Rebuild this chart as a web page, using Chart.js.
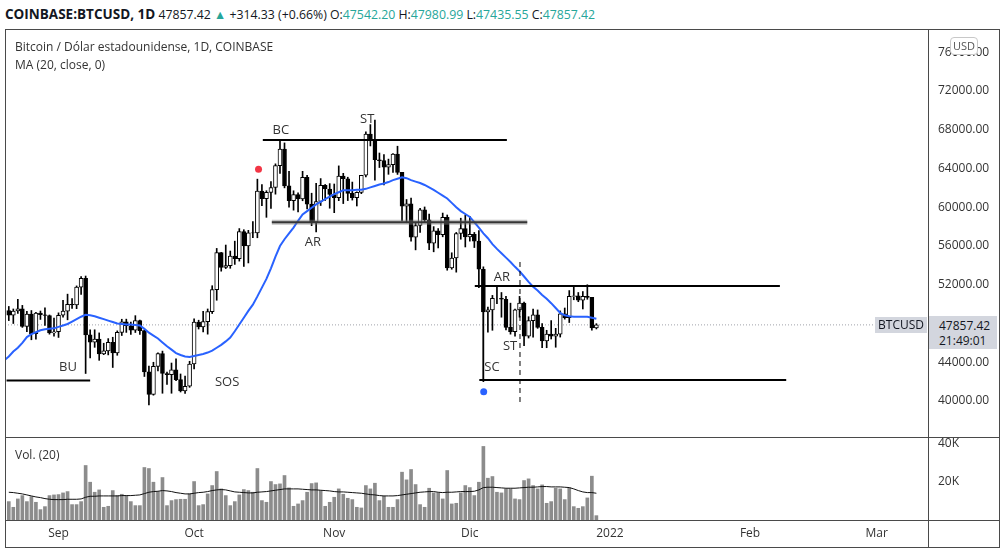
<!DOCTYPE html>
<html>
<head>
<meta charset="utf-8">
<title>BTCUSD 1D</title>
<script src="https://cdn.jsdelivr.net/npm/chart.js@4.4.1/dist/chart.umd.min.js"></script>
<style>
  html, body { margin: 0; padding: 0; background: #fff; }
  body { width: 1006px; height: 555px; position: relative; overflow: hidden;
         font-family: "Open Sans", "Noto Sans", sans-serif; color: #131722; }
  canvas { position: absolute; }
  #header { position: absolute; left: 5px; top: 5px; font-size: 12.3px; line-height: 18px; white-space: nowrap; }
  #header b { font-weight: 700; font-size: 13.5px; }
  .up { color: #26a69a; }
  .legend { position: absolute; left: 15px; font-size: 12px; line-height: 16px; color: #333; white-space: nowrap; }
  .line { position: absolute; background: #4a4a4a; }
  #usd { position: absolute; left: 950px; top: 37px; width: 26px; height: 16px; border: 1px solid #c8c8c8;
         border-radius: 4px; background: #fff; font-size: 11px; line-height: 16px; text-align: center; color: #555; }
  .tag { position: absolute; background: #d3d6de; font-size: 12px; color: #131722; }
</style>
</head>
<body>

<div id="header"><b>COINBASE:BTCUSD, 1D</b> 47857.42 <span class="up">&#9650;</span> +314.33 (+0.66%) O:<span class="up">47542.20</span> H:<span class="up">47980.99</span> L:<span class="up">47435.55</span> C:<span class="up">47857.42</span></div>

<canvas id="priceChart" width="995" height="407" style="left:5px;top:30px"></canvas>
<canvas id="volChart" width="995" height="110" style="left:5px;top:438px"></canvas>

<div class="legend" style="top:39px">Bitcoin / Dólar estadounidense, 1D, COINBASE</div>
<div class="legend" style="top:57px">MA (20, close, 0)</div>
<div class="legend" style="top:447px">Vol. (20)</div>

<!-- pane frame -->
<div class="line" style="left:5px;top:29px;width:995px;height:1px"></div>
<div class="line" style="left:5px;top:547px;width:995px;height:1px"></div>
<div class="line" style="left:5px;top:29px;width:1px;height:519px"></div>
<div class="line" style="left:999px;top:29px;width:1px;height:519px"></div>
<div class="line" style="left:928px;top:29px;width:1px;height:519px"></div>
<div class="line" style="left:5px;top:437px;width:995px;height:1px"></div>
<div class="line" style="left:5px;top:520px;width:995px;height:1px"></div>

<div id="usd">USD</div>
<div class="tag" style="left:875px;top:317px;width:52px;height:16px;line-height:16px;text-align:center">BTCUSD</div>
<div class="tag" style="left:929px;top:316px;width:68px;height:33px;line-height:15px;box-sizing:border-box;padding:2px 0 0 10px">47857.42<br>21:49:01</div>

<script>
// day 0 = 1 Sep 2021; candles run from 21 Aug to 29 Dec 2021
const FIRST_DAY = -11;

const opens = [
  49340, 48870, 49290, 49510, 47700, 48960, 46940, 49080, 48900, 48830, 47030,
  47150, 48850, 49270, 49980, 49920, 51750, 52650, 46830, 46070, 46400, 44850, 45170, 46050, 44960, 47090,
  48180, 47770, 47300, 48300, 47260, 43010, 40690, 43570, 44890, 42840, 42720, 43210, 42200, 41040, 41520,
  43820, 48140, 47640, 48200, 49230, 51490, 55330, 53800, 53970, 54960, 54690, 57480, 56000, 57370, 57350,
  61670, 60880, 61530, 62040, 64300, 66000, 62210, 60690, 61300, 60860, 63080, 60330, 58460, 60590, 62250, 61880,
  61320, 61000, 63230, 62940, 61430, 61000, 61530, 63300, 67550, 66940, 64900, 64820, 64150, 64400, 65500,
  63600, 60100, 60360, 56900, 58120, 59730, 58700, 56300, 57570, 57170, 58960, 53730, 54760, 57290, 57800,
  56950, 57200, 56500, 53600, 49200, 49400, 50600, 50600, 50500, 47600, 47150, 49400, 50100, 46700, 48300,
  48900, 47600, 46200, 46900, 46700, 46900, 49000, 48600, 50800, 50850, 50400, 50800, 50700, 47542.20
];
const highs = [
  49760, 49500, 50500, 49870, 49250, 49340, 49150, 49290, 49630, 48880, 48550,
  49100, 50390, 51030, 50570, 51880, 52850, 52900, 47340, 47350, 47030, 45960, 46440, 46580, 47240, 48440,
  48450, 48140, 48810, 48360, 47330, 43610, 44000, 44980, 45150, 42980, 43920, 44350, 42790, 42580, 44100,
  48490, 48340, 49250, 49500, 51900, 55750, 55340, 56100, 55480, 56500, 57800, 57680, 57620, 58530, 62900,
  62350, 61710, 62650, 64480, 67000, 66640, 63710, 61700, 61490, 63710, 63290, 61450, 62480, 62960, 62350, 62440,
  62400, 64270, 63500, 63100, 62600, 61590, 63300, 67790, 68530, 69000, 65600, 65450, 64970, 65530, 66300,
  63600, 60800, 60940, 58370, 59900, 60030, 59300, 58000, 57800, 59400, 59200, 55300, 57400, 58870, 59200,
  59050, 57400, 57600, 53850, 49700, 50900, 51950, 51200, 50800, 50100, 49500, 50800, 50200, 48700, 49500,
  49400, 48000, 47300, 48300, 47500, 49300, 49600, 51400, 51800, 51200, 51300, 52000, 50700, 47980.99
];
const lows = [
  48300, 48000, 49030, 47600, 47150, 46320, 46370, 48420, 47800, 46900, 46700,
  46560, 48650, 48380, 49560, 49530, 50990, 42840, 44440, 45540, 44200, 44780, 44760, 43460, 44720, 46760,
  47080, 46870, 47070, 46870, 42530, 39600, 40600, 43100, 40800, 41700, 40800, 42100, 40930, 40770, 41410,
  43300, 47430, 47120, 46900, 49030, 50400, 53400, 53670, 53700, 54100, 54440, 53890, 54250, 56850, 56850,
  60170, 58960, 59880, 61350, 63500, 62000, 60000, 59700, 59530, 60670, 59820, 58100, 57450, 60180, 60700, 59900,
  59440, 60680, 60380, 60690, 60740, 60130, 61400, 63120, 66330, 62800, 64100, 62300, 63400, 63600, 63390,
  58600, 58400, 56500, 55600, 57400, 58500, 55630, 55400, 55800, 56950, 53500, 53600, 53300, 56700, 55900,
  56500, 55840, 51700, 42000, 47100, 47300, 50050, 48650, 47350, 46900, 46700, 48650, 45700, 46500, 46600,
  47500, 45500, 45500, 46400, 45550, 46600, 48450, 48100, 50450, 50250, 49500, 50500, 47300, 47435.55
];
const closes = [
  48870, 49290, 49510, 47700, 48960, 46940, 49080, 48900, 48830, 47030, 47150,
  48850, 49270, 49980, 49920, 51750, 52650, 46830, 46070, 46400, 44850, 45170, 46050, 44960, 47090, 48180,
  47770, 47300, 48300, 47260, 43010, 40690, 43570, 44890, 42840, 42720, 43210, 42200, 41040, 41520, 43820,
  48140, 47640, 48200, 49230, 51490, 55330, 53800, 53970, 54960, 54690, 57480, 56000, 57370, 57350, 61670,
  60880, 61530, 62040, 64300, 66000, 62210, 60690, 61300, 60860, 63080, 60330, 58460, 60590, 62250, 61880, 61320,
  61000, 63230, 62940, 61430, 61000, 61530, 63300, 67550, 66940, 64900, 64820, 64150, 64400, 65500, 63600,
  60100, 60360, 56900, 58120, 59730, 58700, 56300, 57570, 57170, 58960, 53730, 54760, 57290, 57800, 56950,
  57200, 56500, 53600, 49200, 49400, 50600, 50600, 50500, 47600, 47150, 49400, 50100, 46700, 48300, 48900,
  47600, 46200, 46900, 46700, 46900, 49000, 48600, 50800, 50850, 50400, 50800, 50700, 47540, 47857.42
];
// MA (20, close), starting one day before the first visible candle
const ma20 = [
  44200,
  44600, 45100, 45500, 46000, 46600, 46900, 47100, 47300, 47400, 47450, 47500,
  47650, 47800, 47950, 48200, 48450, 48700, 48900, 48850, 48750, 48600, 48450, 48300, 48150, 48000, 47950,
  47900, 47900, 47850, 47800, 47450, 47050, 46750, 46450, 46050, 45650, 45300, 44950, 44750, 44600, 44550,
  44650, 44750, 44850, 45000, 45200, 45500, 45800, 46150, 46550, 47200, 47900, 48600, 49300, 49950, 50800,
  51700, 52600, 53700, 54900, 56000, 56700, 57300, 57900, 58600, 59250, 59600, 59950, 60300, 60550, 60850, 61100,
  61350, 61550, 61750, 61750, 61750, 61800, 61800, 61900, 62050, 62200, 62350, 62450, 62600, 62800, 62950,
  63100, 63000, 62800, 62650, 62500, 62300, 62050, 61800, 61500, 61200, 60900, 60450, 60000, 59600, 59300,
  59000, 58450, 57900, 57300, 56800, 56200, 55700, 55250, 54800, 54350, 53850, 53400, 52850, 52300, 51800,
  51400, 50950, 50550, 50100, 49600, 49100, 48850, 48750, 48700, 48700, 48700, 48700, 48600, 48500
];
const volumes = [
  9680, 6690, 11090, 12850, 9680, 12320, 9330, 5460, 7040, 12850, 13200,
  13380, 14260, 14960, 8100, 8100, 9680, 28690, 19890, 14610, 15840, 6690, 7220, 15490, 12850, 13550,
  12850, 9680, 7570, 7570, 27630, 27100, 19890, 14960, 22350, 7570, 10210, 10740, 10910, 10910, 13730,
  20240, 7570, 8100, 13730, 18130, 25520, 16370, 12850, 7570, 9680, 13200, 16020, 15490, 14610, 27100,
  10210, 9330, 20240, 18660, 19010, 23410, 16900, 7220, 8450, 10210, 14610, 19180, 19540, 15490, 7220, 9330,
  11970, 16370, 13550, 11440, 10740, 6690, 6340, 18130, 16370, 19360, 10210, 12500, 6690, 6690, 10740,
  25170, 21120, 26580, 18660, 8100, 6690, 16720, 14260, 14260, 11090, 26050, 8450, 8800, 14260, 18130,
  17070, 12850, 19890, 38720, 22000, 22880, 14610, 14260, 16370, 16370, 11090, 10740, 20770, 21650, 18130,
  16370, 18480, 8800, 9680, 16720, 16370, 10740, 16900, 7040, 6160, 7040, 11620, 23060, 2290
];
const volMa20 = [
  14600, 14430, 14080, 13730, 13200, 12670, 12140, 11790, 11260, 10910, 10740,
  10740, 10740, 10910, 10910, 10910, 11090, 11970, 12500, 12500, 12670, 12670, 12670, 12670, 12670, 12850,
  12850, 12850, 13020, 13200, 13900, 14610, 14960, 15140, 15490, 15310, 14960, 14430, 14080, 13730, 13730,
  14080, 14430, 14610, 14960, 15490, 15840, 16020, 15840, 15310, 14780, 14610, 14430, 14260, 14260, 14610,
  14780, 14960, 15310, 15660, 16020, 16370, 16370, 16370, 16370, 16190, 16020, 15840, 15840, 15660, 15490, 15310,
  14960, 14780, 14780, 14610, 14430, 14260, 14080, 13730, 13380, 13200, 12850, 12670, 12670, 12670, 12850,
  13200, 13550, 13900, 14260, 14610, 14780, 14960, 14960, 14610, 14430, 14610, 14610, 14780, 14960, 14960,
  14960, 15140, 15840, 17070, 17250, 17250, 17070, 16900, 16720, 16720, 16720, 16900, 17070, 17250, 17250,
  17420, 17600, 17600, 17420, 17420, 17420, 17250, 17070, 16370, 15490, 14780, 14430, 14430, 14080
];

const monthTicks = [0, 30, 61, 91, 122, 153, 181];
const monthLabels = ['Sep', 'Oct', 'Nov', 'Dic', '2022', 'Feb', 'Mar'];
const priceTicks = [40000, 44000, 48000, 52000, 56000, 60000, 64000, 68000, 72000, 76000];
const volTicks = [20000, 40000];
const lastPrice = 47857.42;

// hand drawn Wyckoff marks: [fromDay, toDay, price]
const levels = [
  [-11.5, 7, 42120],     // BU
  [45.2, 99.2, 66940],   // BC
  [92.1, 159.6, 51870],  // AR (range top)
  [93.1, 161, 42170]     // SC (range bottom)
];
const arLevel = [47.2, 103.7, 58450];
const scStem = [94, 51870, 42170];
const stDash = [102.1, 54350, 39800];
const redDot = [44.25, 63920];
const blueDot = [94.07, 40960];
const marks = [
  ['BU', 2.1, 43510], ['SOS', 37.3, 41960], ['BC', 49.2, 67970], ['ST', 68.3, 69110],
  ['AR', 56.3, 56410], ['AR', 98.1, 52800], ['ST', 99.9, 45680], ['SC', 95.9, 43510]
];

// visible window, in days
const X_MIN = -11.84;
const X_MAX = 192.37;

const days = closes.map((_, i) => FIRST_DAY + i);

function seg(points, color, width, dash, order) {
  return {
    type: 'line', data: points, borderColor: color, borderWidth: width,
    borderDash: dash || [], pointRadius: 0, fill: false, tension: 0, order: order === undefined ? 0 : order
  };
}
function dot(p, color) {
  return {
    type: 'line', data: [{ x: p[0], y: p[1] }], showLine: false,
    pointRadius: 3.5, pointBackgroundColor: color, pointBorderWidth: 0, order: 0
  };
}

const markLabels = {
  id: 'markLabels',
  afterDatasetsDraw(chart) {
    const { ctx, scales: { x, y } } = chart;
    ctx.save();
    ctx.font = '13px "Open Sans"';
    ctx.fillStyle = '#333';
    ctx.textAlign = 'center';
    ctx.textBaseline = 'middle';
    marks.forEach(m => ctx.fillText(m[0], x.getPixelForValue(m[1]), y.getPixelForValue(m[2])));
    ctx.restore();
  }
};

const axisFont = { family: '"Open Sans"', size: 12 };

const priceDatasets = [
  seg([{ x: X_MIN, y: lastPrice }, { x: X_MAX, y: lastPrice }], '#a0a3ab', 1, [1, 2], 10),
  {
    type: 'bar', data: days.map((d, i) => ({ x: d, y: [lows[i], highs[i]] })),
    backgroundColor: '#000', barThickness: 1, grouped: false, order: 3
  },
  {
    type: 'bar', data: days.map((d, i) => ({ x: d, y: [opens[i], closes[i]] })),
    backgroundColor: closes.map((c, i) => c >= opens[i] ? '#fff' : '#000'),
    borderColor: '#000', borderWidth: 1, borderSkipped: false, barThickness: 4, grouped: false, order: 2
  },
  seg(ma20.map((v, i) => ({ x: FIRST_DAY - 1 + i, y: v })), '#2962ff', 2, null, 1),
  seg([{ x: arLevel[0], y: arLevel[2] }, { x: arLevel[1], y: arLevel[2] }], 'rgba(120,120,120,0.45)', 5),
  seg([{ x: arLevel[0], y: arLevel[2] }, { x: arLevel[1], y: arLevel[2] }], '#000', 2),
  seg([{ x: scStem[0], y: scStem[1] }, { x: scStem[0], y: scStem[2] }], '#000', 1),
  seg([{ x: stDash[0], y: stDash[1] }, { x: stDash[0], y: stDash[2] }], '#000', 1, [5, 4]),
  dot(redDot, '#f23645'),
  dot(blueDot, '#2962ff')
];
levels.forEach(l => priceDatasets.push(seg([{ x: l[0], y: l[2] }, { x: l[1], y: l[2] }], '#000', 2)));

new Chart(document.getElementById('priceChart'), {
  type: 'bar',
  data: { datasets: priceDatasets },
  options: {
    responsive: false, animation: false, events: [],
    layout: { padding: 0, autoPadding: false },
    plugins: { legend: { display: false }, tooltip: { enabled: false } },
    scales: {
      x: { type: 'linear', min: X_MIN, max: X_MAX, offset: false, display: false },
      y: {
        position: 'right', min: 36284, max: 78297,
        grid: { display: false, drawTicks: false }, border: { display: false },
        ticks: { color: '#333', font: axisFont, padding: 10, callback: v => v.toFixed(2) },
        afterBuildTicks: s => { s.ticks = priceTicks.map(v => ({ value: v })); },
        afterFit: s => { s.width = 72; s.paddingTop = 0; s.paddingBottom = 0; }
      }
    }
  },
  plugins: [markLabels]
});

new Chart(document.getElementById('volChart'), {
  type: 'bar',
  data: {
    datasets: [
      seg(days.map((d, i) => ({ x: d, y: volMa20[i] })), '#111', 1, null, 0),
      {
        type: 'bar', data: days.map((d, i) => ({ x: d, y: volumes[i] })),
        backgroundColor: '#8c8c8c', barThickness: 3, grouped: false, order: 1
      }
    ]
  },
  options: {
    responsive: false, animation: false, events: [],
    layout: { padding: 0, autoPadding: false },
    plugins: { legend: { display: false }, tooltip: { enabled: false } },
    scales: {
      x: {
        type: 'linear', min: X_MIN, max: X_MAX, offset: false,
        grid: { display: false, drawTicks: false }, border: { display: false },
        ticks: {
          color: '#333', font: axisFont, padding: 6, autoSkip: false, maxRotation: 0,
          callback: v => monthLabels[monthTicks.indexOf(v)]
        },
        afterBuildTicks: s => { s.ticks = monthTicks.map(v => ({ value: v })); },
        afterFit: s => { s.height = 28; s.paddingLeft = 0; s.paddingRight = 0; }
      },
      y: {
        position: 'right', min: 0, max: 43160,
        grid: { display: false, drawTicks: false }, border: { display: false },
        ticks: { color: '#333', font: axisFont, padding: 10, callback: v => (v / 1000) + 'K' },
        afterBuildTicks: s => { s.ticks = volTicks.map(v => ({ value: v })); },
        afterFit: s => { s.width = 72; s.paddingTop = 0; s.paddingBottom = 0; }
      }
    }
  }
});
</script>
</body>
</html>
